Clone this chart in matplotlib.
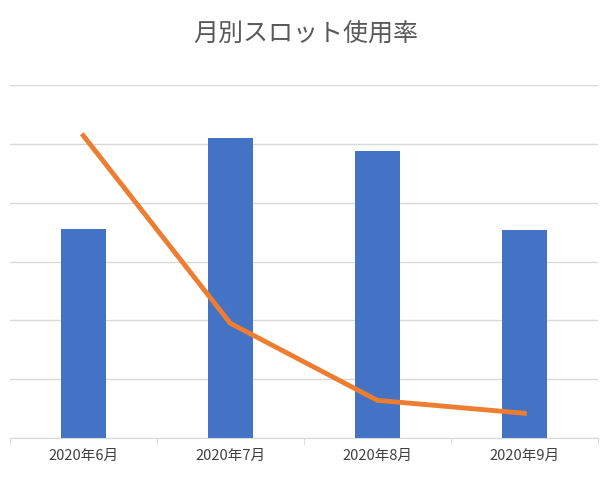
import matplotlib
matplotlib.use("Agg")
import matplotlib.pyplot as plt
import numpy as np

plt.rcParams['font.family'] = ['Noto Sans CJK JP', 'DejaVu Sans']

categories = ["2020年6月", "2020年7月", "2020年8月", "2020年9月"]
bar_values = [3.56, 5.10, 4.88, 3.53]
line_values = [5.14, 1.95, 0.64, 0.42]
title = "月別スロット使用率"

fig = plt.figure(figsize=(6.12, 4.86), dpi=100)
ax = fig.add_axes([0.016, 0.0988, 0.961, 0.7262])
x = np.arange(len(categories))
ax.set_axisbelow(True)
ax.bar(x, bar_values, width=0.31, color="#4472C4", zorder=2)
ax.plot(x, line_values, color="#ED7D31", linewidth=3.5, zorder=3)
ax.set_xlim(-0.5, len(categories) - 0.5)
ax.set_ylim(0, 6)
ax.set_yticks(np.arange(0, 7, 1))
ax.yaxis.grid(True, color="#D9D9D9", linewidth=1)
ax.tick_params(axis='y', left=False, labelleft=False)
ax.set_xticks(x)
ax.set_xticklabels(categories, fontsize=10.5, color="#404040")
ax.set_xticks(np.arange(-0.5, len(categories)), minor=True)
ax.tick_params(axis='x', which='major', length=0, pad=8)
ax.tick_params(axis='x', which='minor', length=5, color="#D9D9D9")
for s in ["top", "right", "left"]:
    ax.spines[s].set_visible(False)
ax.spines["bottom"].set_color("#D9D9D9")
fig.text(0.5, 0.928, title, ha="center", va="center", fontsize=18, color="#595959")
fig.savefig("out.png", dpi=100)
